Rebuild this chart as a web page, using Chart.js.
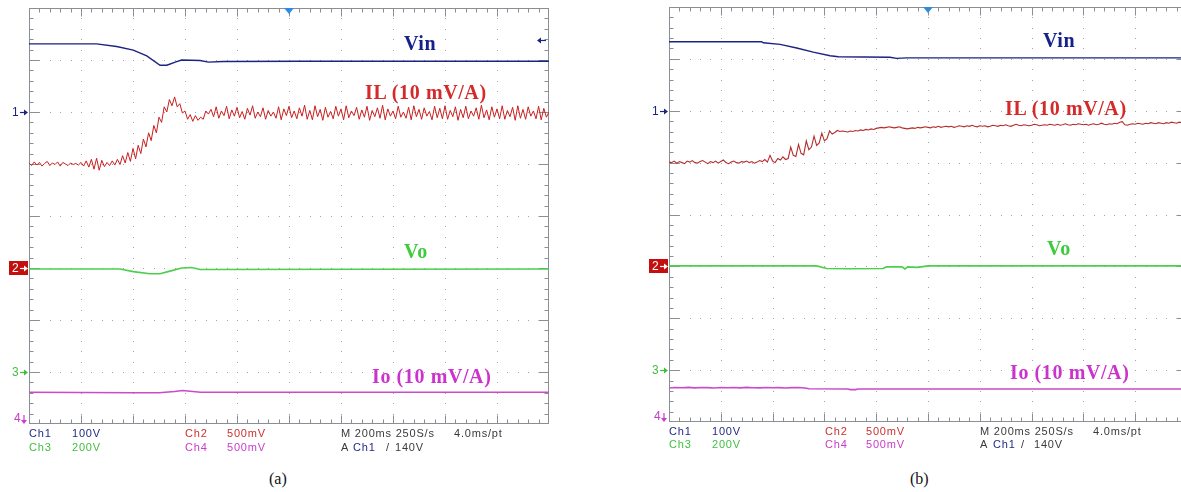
<!DOCTYPE html>
<html>
<head>
<meta charset="utf-8">
<script src="https://cdn.jsdelivr.net/npm/chart.js@4.4.1/dist/chart.umd.min.js"></script>
<style>
  html, body { margin: 0; padding: 0; background: #fff; overflow: hidden; }
  #wrap { position: relative; width: 1181px; height: 492px; overflow: hidden; }
  canvas { position: absolute; top: 0; }
  .lbl { position: absolute; font-family: "Liberation Serif", "Times New Roman", serif; font-weight: bold;
         font-size: 20px; line-height: 20px; white-space: nowrap; letter-spacing: 0.6px; }
  .ft { position: absolute; font-family: "Liberation Sans", Arial, sans-serif; font-size: 11px;
        line-height: 11px; white-space: nowrap; letter-spacing: 0.8px; color: #3a3a3a; }
  .cap { position: absolute; font-family: "Liberation Serif", "Times New Roman", serif; font-size: 16px;
         line-height: 16px; color: #111; }
  .navy { color: #1f2a86; } .red { color: #cc3030; } .green { color: #3fbf3f; } .mag { color: #c93bc9; }
</style>
</head>
<body>
<div id="wrap">
  <canvas id="scopeA" width="560" height="432" style="left:0px"></canvas>
  <canvas id="scopeB" width="560" height="432" style="left:640px"></canvas>

  <div class="lbl" style="left:404px;top:33px;color:#14228c">Vin</div>
  <div class="lbl" style="left:365px;top:82px;color:#d42a2a">IL (10 mV/A)</div>
  <div class="lbl" style="left:404px;top:241px;color:#3ccc3c">Vo</div>
  <div class="lbl" style="left:372px;top:366px;color:#cc33cc">Io (10 mV/A)</div>

  <div class="lbl" style="left:1043px;top:30px;color:#14228c">Vin</div>
  <div class="lbl" style="left:1005px;top:98px;color:#d42a2a">IL (10 mV/A)</div>
  <div class="lbl" style="left:1047px;top:238px;color:#3ccc3c">Vo</div>
  <div class="lbl" style="left:1010px;top:362px;color:#cc33cc">Io (10 mV/A)</div>

  <div class="ft navy" style="left:29px;top:428px">Ch1</div>
  <div class="ft navy" style="left:72px;top:428px">100V</div>
  <div class="ft red" style="left:185px;top:428px">Ch2</div>
  <div class="ft red" style="left:227px;top:428px">500mV</div>
  <div class="ft" style="left:341px;top:428px">M 200ms 250S/s</div>
  <div class="ft" style="left:454px;top:428px">4.0ms/pt</div>
  <div class="ft green" style="left:29px;top:442px">Ch3</div>
  <div class="ft green" style="left:72px;top:442px">200V</div>
  <div class="ft mag" style="left:185px;top:442px">Ch4</div>
  <div class="ft mag" style="left:227px;top:442px">500mV</div>
  <div class="ft" style="left:341px;top:442px">A</div>
  <div class="ft navy" style="left:353px;top:442px">Ch1</div>
  <div class="ft" style="left:386px;top:442px">/</div>
  <div class="ft" style="left:395px;top:442px">140V</div>

  <div class="ft navy" style="left:669px;top:426px">Ch1</div>
  <div class="ft navy" style="left:712px;top:426px">100V</div>
  <div class="ft red" style="left:825px;top:426px">Ch2</div>
  <div class="ft red" style="left:866px;top:426px">500mV</div>
  <div class="ft" style="left:980px;top:426px">M 200ms 250S/s</div>
  <div class="ft" style="left:1093px;top:426px">4.0ms/pt</div>
  <div class="ft green" style="left:669px;top:439px">Ch3</div>
  <div class="ft green" style="left:712px;top:439px">200V</div>
  <div class="ft mag" style="left:825px;top:439px">Ch4</div>
  <div class="ft mag" style="left:866px;top:439px">500mV</div>
  <div class="ft" style="left:980px;top:439px">A</div>
  <div class="ft navy" style="left:993px;top:439px">Ch1</div>
  <div class="ft" style="left:1021px;top:439px">/</div>
  <div class="ft" style="left:1034px;top:439px">140V</div>

  <div class="cap" style="left:269px;top:471px">(a)</div>
  <div class="cap" style="left:910px;top:471px">(b)</div>
</div>

<script>
// screen: 10 div x 200 ms/div, 8 vertical divisions (values below are in divisions from bottom)
const timeMin = 0;
const timeMax = 2000;
const divMin = 0;
const divMax = 8;
const sampleMs = 10;

// ---- (a) ----
const vinTimeA = [0, 260, 337, 401, 453, 504, 530, 568, 587, 658, 690, 747, 1042, 2000];
const vinDivA  = [7.31, 7.31, 7.26, 7.19, 7.08, 6.90, 6.90, 6.97, 7.00, 6.99, 6.96, 6.97, 6.975, 6.975];

// inductor current, one value every 10 ms
const ilDivA = [
  5.02, 4.97, 5.04, 4.98, 5.03, 4.96, 5.01, 5.05, 4.97, 5.02,
  4.99, 5.04, 4.96, 5.03, 5.00, 4.97, 5.02, 4.99, 5.01, 4.98,
  5.03, 4.96, 5.06, 4.94, 5.09, 4.90, 5.11, 4.88, 5.07, 4.95,
  5.03, 4.97, 5.06, 4.98, 5.09,
  4.99, 5.16, 5.02, 5.22, 5.05, 5.30, 5.10, 5.36, 5.20, 5.48,
  5.33, 5.60, 5.45, 5.74, 5.60, 5.90, 5.80, 6.10, 6.00, 6.24,
  6.12, 6.29, 6.10, 6.16, 5.98,
  6.02, 5.86, 5.95, 5.82, 5.93, 5.84, 5.90, 5.86, 6.02, 5.96,
  6.05, 5.91, 6.10, 5.88, 6.02, 5.93, 6.11, 5.87, 6.04, 5.92,
  6.09, 5.89, 6.01, 5.86, 6.07, 5.94, 6.12, 5.88, 6.00, 5.91,
  6.08, 5.86, 6.03, 5.92, 6.00, 5.88, 6.10, 5.85, 6.06, 5.93,
  6.11, 5.89, 6.02, 5.87, 6.08, 5.92, 6.13, 5.86, 6.03, 5.85,
  6.12, 5.91, 6.05, 5.84, 6.09, 5.90, 6.01, 5.87, 6.11, 5.92,
  6.06, 5.85, 6.12, 5.89, 6.02, 5.93, 6.09, 5.86, 6.04, 5.90,
  6.11, 5.84, 6.03, 5.91, 6.08, 5.88, 6.13, 5.85, 6.06, 5.92,
  6.02, 5.87, 6.11, 5.90, 6.00, 5.88, 6.09, 5.85, 6.12, 5.91,
  6.05, 5.86, 6.08, 5.92, 6.01, 5.85, 6.11, 5.89, 6.07, 5.87,
  6.12, 5.86, 6.03, 5.91, 6.10, 5.84, 6.05, 5.89, 6.11, 5.87,
  6.02, 5.92, 6.08, 5.86, 6.13, 5.89, 6.04, 5.85, 6.10, 5.90,
  6.06, 5.87, 6.12, 5.86, 6.03, 5.91, 6.09, 5.84, 6.12, 5.88,
  6.05, 5.86, 6.10, 5.92, 6.02, 5.87, 6.11, 5.85, 6.07, 5.90, 6.00
];

const voTimeA = [0, 350, 401, 465, 504, 542, 587, 626, 658, 2000];
const voDivA  = [2.98, 2.98, 2.93, 2.89, 2.89, 2.94, 3.00, 3.01, 2.97, 2.98];

const ioTimeA = [0, 395, 500, 560, 590, 620, 660, 2000];
const ioDivA  = [0.61, 0.60, 0.60, 0.625, 0.645, 0.63, 0.61, 0.61];

// ---- (b) ----
const vinTimeB = [0, 358, 364, 429, 493, 557, 622, 654, 853, 879, 918, 2000];
const vinDivB  = [7.33, 7.33, 7.31, 7.28, 7.21, 7.13, 7.06, 7.04, 7.03, 7.01, 7.02, 7.02];

const ilDivB = [
  5.01, 5.00, 5.03, 4.99, 5.02, 5.00, 4.98, 5.03, 5.01, 5.04,
  5.00, 4.99, 5.02, 5.04, 5.01, 4.98, 5.02, 5.00, 5.03, 4.99,
  5.02, 5.05, 5.00, 4.98, 5.01, 5.03, 5.00, 4.99, 5.02, 5.01,
  5.03, 5.00, 5.02, 4.99, 5.01, 5.04, 5.02, 5.06, 5.01, 5.14,
  5.03, 5.00, 5.08, 5.05, 5.11, 5.06, 5.08, 5.30, 5.14, 5.12,
  5.35, 5.18, 5.15, 5.42, 5.25, 5.30, 5.51, 5.33, 5.38, 5.57,
  5.42, 5.46, 5.61, 5.55, 5.58, 5.62, 5.60, 5.61, 5.60, 5.59,
  5.61, 5.60, 5.62, 5.61, 5.63, 5.62, 5.64, 5.63, 5.65, 5.64,
  5.66, 5.67, 5.68, 5.67, 5.68, 5.69, 5.68, 5.67, 5.68, 5.69,
  5.67, 5.66, 5.65, 5.66, 5.67, 5.66, 5.68, 5.67, 5.68, 5.69,
  5.68, 5.67, 5.69, 5.68, 5.70, 5.68, 5.69, 5.70, 5.69, 5.70,
  5.68, 5.69, 5.71, 5.70, 5.69, 5.71, 5.70, 5.72, 5.70, 5.69,
  5.71, 5.70, 5.71, 5.69, 5.70, 5.72, 5.71, 5.70, 5.72, 5.71,
  5.73, 5.71, 5.70, 5.72, 5.74, 5.72, 5.71, 5.73, 5.72, 5.71,
  5.72, 5.74, 5.73, 5.71, 5.72, 5.73, 5.72, 5.74, 5.73, 5.72,
  5.74, 5.72, 5.73, 5.75, 5.73, 5.72, 5.74, 5.73, 5.75, 5.74,
  5.73, 5.74, 5.72, 5.74, 5.75, 5.73, 5.74, 5.76, 5.74, 5.73,
  5.75, 5.74, 5.76, 5.75, 5.78, 5.79, 5.73, 5.72, 5.74, 5.75,
  5.74, 5.76, 5.75, 5.74, 5.76, 5.75, 5.77, 5.76, 5.75, 5.77,
  5.76, 5.75, 5.77, 5.76, 5.78, 5.77, 5.76, 5.78, 5.77, 5.76, 5.77
];

const voTimeB = [0, 570, 609, 700, 826, 840, 900, 911, 922, 960, 1000, 2000];
const voDivB  = [3.01, 3.01, 2.96, 2.955, 2.96, 2.99, 2.99, 2.95, 2.99, 2.98, 3.01, 3.01];

const ioTimeB = [0, 25, 50, 75, 100, 125, 150, 175, 200, 225, 250, 275, 300, 325, 350,
                 375, 400, 425, 450, 475, 500, 525, 540, 690, 700, 720, 730, 2000];
const ioDivB  = [0.655, 0.665, 0.66, 0.668, 0.658, 0.664, 0.662, 0.656, 0.666, 0.66, 0.664,
                 0.658, 0.667, 0.661, 0.657, 0.665, 0.66, 0.663, 0.656, 0.662, 0.665, 0.655,
                 0.64, 0.637, 0.625, 0.625, 0.636, 0.636];

// channel ground markers (division) on the left edge
const markerDivs = [6, 3, 1, 0];
const markerNames = ['1', '2', '3', '4'];
const triggerTime = 1000;
const trigLevelDiv = 7.38;

const colVin = '#1b2383';
const colVo = '#4ccf4c';
const colIo = '#c94bcc';

function pairs(times, vals) {
  return times.map((t, i) => ({ x: t, y: vals[i] }));
}
function sampled(vals) {
  return vals.map((v, i) => ({ x: i * sampleMs, y: v }));
}

const scopePlugin = {
  id: 'scope',
  beforeDatasetsDraw(chart) {
    const { ctx, chartArea: a, scales: { x, y } } = chart;
    ctx.save();
    // dotted graticule
    ctx.fillStyle = '#a4a4a4';
    for (let i = 1; i < 10; i++) {
      const px = Math.round(x.getPixelForValue(i * 200));
      for (let k = 1; k < 40; k++) {
        ctx.fillRect(px, Math.round(y.getPixelForValue(k / 5)), 1, 1);
      }
    }
    for (let j = 1; j < 8; j++) {
      const py = Math.round(y.getPixelForValue(j));
      for (let k = 1; k < 50; k++) {
        ctx.fillRect(Math.round(x.getPixelForValue(k * 40)), py, 1, 1);
      }
    }
    // frame + edge ticks
    ctx.strokeStyle = '#8a8f96';
    ctx.lineWidth = 1;
    const L = Math.round(a.left) + 0.5, R = Math.round(a.right) - 0.5;
    const T = Math.round(a.top) + 0.5, B = Math.round(a.bottom) - 0.5;
    ctx.strokeRect(L, T, R - L, B - T);
    ctx.beginPath();
    for (let k = 1; k < 50; k++) {
      const px = Math.round(x.getPixelForValue(k * 40)) + 0.5;
      const len = k % 5 === 0 ? 8 : 4;
      ctx.moveTo(px, T); ctx.lineTo(px, T + len);
      ctx.moveTo(px, B); ctx.lineTo(px, B - len);
    }
    for (let k = 1; k < 40; k++) {
      const py = Math.round(y.getPixelForValue(k / 5)) + 0.5;
      const len = k % 5 === 0 ? 10 : 4;
      ctx.moveTo(L, py); ctx.lineTo(L + len, py);
      ctx.moveTo(R, py); ctx.lineTo(R - len, py);
    }
    ctx.stroke();
    ctx.restore();
  },
  afterDraw(chart, args, opts) {
    const { ctx, chartArea: a, scales: { x, y } } = chart;
    ctx.save();
    ctx.font = '12px "Liberation Sans", Arial, sans-serif';
    ctx.textBaseline = 'middle';
    const cols = [colVin, '#ffffff', '#3fbf3f', '#c93bc9'];
    markerDivs.forEach((d, i) => {
      const py = Math.round(y.getPixelForValue(d));
      const lx = a.left;
      if (i === 1) {
        ctx.fillStyle = '#c40f0f';
        ctx.fillRect(lx - 20, py - 7, 19, 14);
      }
      ctx.fillStyle = cols[i];
      ctx.strokeStyle = cols[i];
      ctx.lineWidth = 1.2;
      if (i === 3) {
        ctx.fillText(markerNames[i], lx - 15, py - 5);
        ctx.beginPath();
        ctx.moveTo(lx - 5, py - 9); ctx.lineTo(lx - 5, py - 2); ctx.stroke();
        ctx.beginPath();
        ctx.moveTo(lx - 8, py - 4); ctx.lineTo(lx - 2, py - 4); ctx.lineTo(lx - 5, py); ctx.fill();
      } else {
        ctx.fillText(markerNames[i], lx - 17, py + 0.5);
        ctx.beginPath();
        ctx.moveTo(lx - 9, py + 0.5); ctx.lineTo(lx - 4, py + 0.5); ctx.stroke();
        ctx.beginPath();
        ctx.moveTo(lx - 5, py - 2.5); ctx.lineTo(lx - 1, py + 0.5); ctx.lineTo(lx - 5, py + 3.5); ctx.fill();
      }
    });
    // trigger position marker
    const tx = x.getPixelForValue(triggerTime);
    ctx.fillStyle = '#2d8be3';
    ctx.beginPath();
    ctx.moveTo(tx - 5, a.top); ctx.lineTo(tx + 5, a.top); ctx.lineTo(tx, a.top + 6); ctx.fill();
    // trigger level arrow on the right edge
    if (opts.levelArrow) {
      const py = Math.round(y.getPixelForValue(trigLevelDiv)) + 0.5;
      ctx.strokeStyle = colVin; ctx.fillStyle = colVin; ctx.lineWidth = 1.2;
      ctx.beginPath(); ctx.moveTo(a.right - 3, py); ctx.lineTo(a.right - 9, py); ctx.stroke();
      ctx.beginPath();
      ctx.moveTo(a.right - 8, py - 3); ctx.lineTo(a.right - 12, py); ctx.lineTo(a.right - 8, py + 3); ctx.fill();
    }
    ctx.restore();
  }
};

function makeScope(id, sets, padding, levelArrow) {
  return new Chart(document.getElementById(id), {
    type: 'line',
    data: {
      datasets: sets.map(s => ({
        data: s.data, borderColor: s.color, borderWidth: s.width,
        pointRadius: 0, tension: 0, fill: false
      }))
    },
    options: {
      responsive: false,
      animation: false,
      devicePixelRatio: 1,
      layout: { padding },
      plugins: { legend: { display: false }, tooltip: { enabled: false }, scope: { levelArrow } },
      scales: {
        x: { type: 'linear', min: timeMin, max: timeMax, display: false },
        y: { type: 'linear', min: divMin, max: divMax, display: false }
      }
    },
    plugins: [scopePlugin]
  });
}

makeScope('scopeA', [
  { data: pairs(vinTimeA, vinDivA), color: colVin, width: 1.4 },
  { data: sampled(ilDivA), color: '#c81f1f', width: 1.0 },
  { data: pairs(voTimeA, voDivA), color: colVo, width: 1.6 },
  { data: pairs(ioTimeA, ioDivA), color: colIo, width: 1.6 }
], { left: 29, top: 8, right: 11, bottom: 8 }, true);

makeScope('scopeB', [
  { data: pairs(vinTimeB, vinDivB), color: colVin, width: 1.4 },
  { data: sampled(ilDivB), color: '#b62c2c', width: 1.1 },
  { data: pairs(voTimeB, voDivB), color: colVo, width: 1.6 },
  { data: pairs(ioTimeB, ioDivB), color: colIo, width: 1.6 }
], { left: 29, top: 7, right: 13, bottom: 10 }, false);
</script>
</body>
</html>
